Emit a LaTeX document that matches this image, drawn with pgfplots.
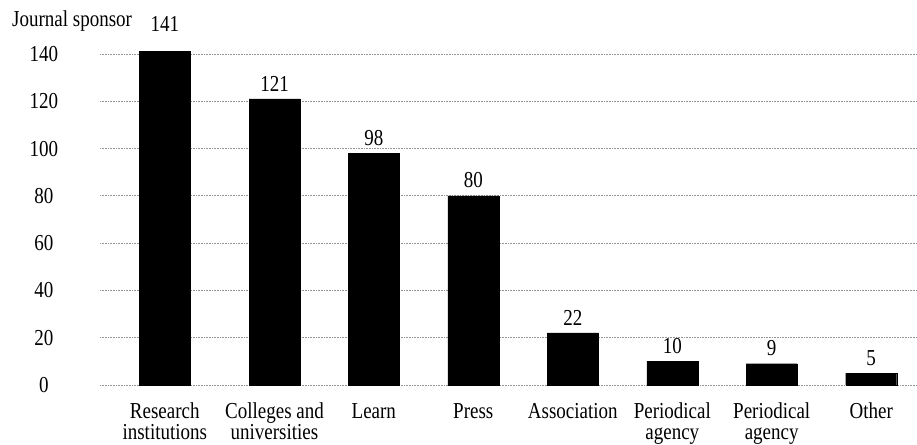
\documentclass[border=0pt]{standalone}
\usepackage{pgfplots}
\pgfplotsset{compat=1.18}
\usepackage{fontspec}
\setmainfont{Liberation Serif}
\newcommand\vs[1]{\scalebox{1}[1.2]{#1}}
\newcommand\xl[2]{\vs{\fontsize{19bp}{17.6bp}\selectfont\begin{tabular}[t]{@{}c@{}}#1\\#2\end{tabular}}}
\newcommand\fs{\fontsize{19bp}{22bp}\selectfont}
\begin{document}
\begin{tikzpicture}
\useasboundingbox (-100bp,-60bp) rectangle (817bp,385bp);
\begin{axis}[
  at={(0,0)}, anchor=south west,
  scale only axis,
  width=817bp, height=342.8bp,
  xmin=1.0, xmax=9.17,
  ymin=0, ymax=145,
  clip=false,
  axis line style={draw=none},
  major tick length=0pt,
  tick style={draw=none},
  ymajorgrids,
  major grid style={gray!85, line width=0.8bp, dash pattern=on 1bp off 0.6bp},
  ytick={0,20,40,60,80,100,120,140},
  /pgf/number format/assume math mode=true,
  yticklabel={\vs{\pgfmathprintnumber{\tick}}},
  yticklabel style={font=\fs, anchor=center, xshift=-56bp},
  xtick={1.648,2.745,3.738,4.733,5.728,6.723,7.717,8.712},
  xticklabels={{\xl{Research}{institutions}},{\xl{Colleges and}{universities}},{\vs{Learn}},{\vs{Press}},{\vs{Association}},{\xl{Periodical}{agency}},{\xl{Periodical}{agency}},{\vs{Other}}},
  xticklabel style={font=\fs, anchor=base, yshift=-33bp},
  ybar, bar width=51bp,
  nodes near coords={\vs{\pgfmathprintnumber{\pgfplotspointmeta}}},
  every node near coord/.append style={font=\fs, anchor=south, inner sep=0pt, yshift=7.5bp},
  /pgf/number format/fixed,
]
\addplot[fill=black, draw=black, bar shift=0pt,
  every node near coord/.append style={yshift=12bp}]
  coordinates {(1.648,141)};
\addplot[fill=black, draw=black, bar shift=0pt]
  coordinates {(2.745,121) (3.738,98) (4.733,80) (5.728,22) (6.723,10) (7.717,9) (8.712,5)};
\end{axis}
\node[anchor=base west, inner sep=0pt, font=\fs] at (-88bp,358bp) {\vs{Journal sponsor}};
\end{tikzpicture}
\end{document}
